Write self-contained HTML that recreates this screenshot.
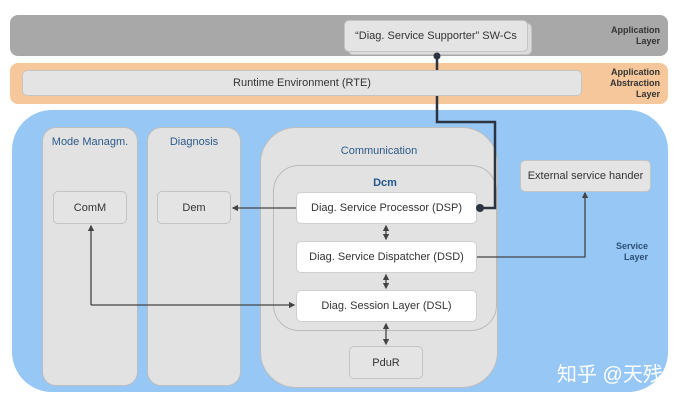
<!DOCTYPE html><html><head><style>
body{margin:0;width:684px;height:402px;background:#fff;position:relative;overflow:hidden;font-family:"Liberation Sans","Noto Sans CJK SC",sans-serif}
div{position:absolute;box-sizing:border-box}
.bx{background:#e4e4e4;border:1px solid #c4c4c4;border-radius:5px;display:flex;align-items:center;justify-content:center;font-size:11px;color:#333}
.w{background:#fff;border:1px solid #cfcfcf}
.lbl{font-size:9px;font-weight:bold;color:#333;text-align:right;line-height:11px}
.col{background:#e2e2e2;border:1px solid #bdbdbd;border-radius:14px}
.t{font-size:11px;color:#2d5a8a;text-align:center;width:100%}
</style></head><body>
<div style="left:10px;top:15px;width:658px;height:41px;background:#a8a8a8;border-radius:8px"></div>
<div class="bx" style="left:348px;top:23px;width:184px;height:32px;background:#dcdcdc"></div>
<div class="bx" style="left:344px;top:20px;width:184px;height:32px">“Diag. Service Supporter” SW-Cs</div>
<div class="lbl" style="left:560px;top:25px;width:100px">Application<br>Layer</div>
<div style="left:10px;top:63px;width:658px;height:41px;background:#f6c79a;border-radius:8px"></div>
<div class="lbl" style="left:560px;top:67px;width:100px">Application<br>Abstraction<br>Layer</div>
<div style="left:12px;top:110px;width:656px;height:282px;background:#96c7f5;border-radius:40px"></div>
<div class="lbl" style="left:560px;top:241px;width:88px;color:#2d4f75">Service<br>Layer</div>
<div class="col" style="left:42px;top:127px;width:96px;height:259px"><div class="t" style="top:8px">Mode Managm.</div></div>
<div class="col" style="left:147px;top:127px;width:94px;height:259px"><div class="t" style="top:8px">Diagnosis</div></div>
<div class="col" style="left:260px;top:127px;width:238px;height:261px;border-radius:36px"><div class="t" style="top:17px">Communication</div></div>
<div style="left:273px;top:165px;width:224px;height:166px;border:1px solid #bbb;border-radius:26px;background:#e2e2e2"></div>
<div class="t" style="left:273px;top:177px;width:224px;font-weight:bold;color:#22588f">Dcm</div>
<div class="bx" style="left:53px;top:191px;width:74px;height:33px">ComM</div>
<div class="bx" style="left:157px;top:191px;width:74px;height:33px">Dem</div>
<div class="bx w" style="left:296px;top:192px;width:181px;height:32px">Diag. Service Processor (DSP)</div>
<div class="bx w" style="left:296px;top:241px;width:181px;height:32px">Diag. Service Dispatcher (DSD)</div>
<div class="bx w" style="left:296px;top:290px;width:181px;height:32px">Diag. Session Layer (DSL)</div>
<div class="bx" style="left:349px;top:346px;width:74px;height:33px">PduR</div>
<div class="bx" style="left:520px;top:160px;width:131px;height:32px">External service hander</div>
<svg style="position:absolute;left:0;top:0" width="684" height="402">
<defs><marker id="a" markerWidth="5" markerHeight="5" refX="4" refY="2.5" orient="auto"><path d="M0,0L5,2.5L0,5z" fill="#444"/></marker></defs>
<g stroke="#444" stroke-width="1.3" fill="none">
<path d="M437 56V122H495V208H482" stroke="#2b3440" stroke-width="2.5"/>
<path d="M296 208H233" marker-end="url(#a)"/>
<path d="M91 305V226" marker-end="url(#a)"/>
<path d="M91 305H294" marker-end="url(#a)"/>
<path d="M477 257H585V193" marker-end="url(#a)"/>
<path d="M386 232V226" marker-end="url(#a)"/><path d="M386 232V239" marker-end="url(#a)"/>
<path d="M386 281V275" marker-end="url(#a)"/><path d="M386 281V288" marker-end="url(#a)"/>
<path d="M386 334V324" marker-end="url(#a)"/><path d="M386 334V344" marker-end="url(#a)"/>
</g>
<circle cx="437" cy="56" r="3.5" fill="#2b3440"/><circle cx="480" cy="208" r="4" fill="#2b3440"/>
</svg>
<div class="bx" style="left:22px;top:70px;width:560px;height:26px">Runtime Environment (RTE)</div>
<div style="left:557px;top:358px;font-size:20px;color:#fff;white-space:nowrap">知乎 @天残</div>
</body></html>
